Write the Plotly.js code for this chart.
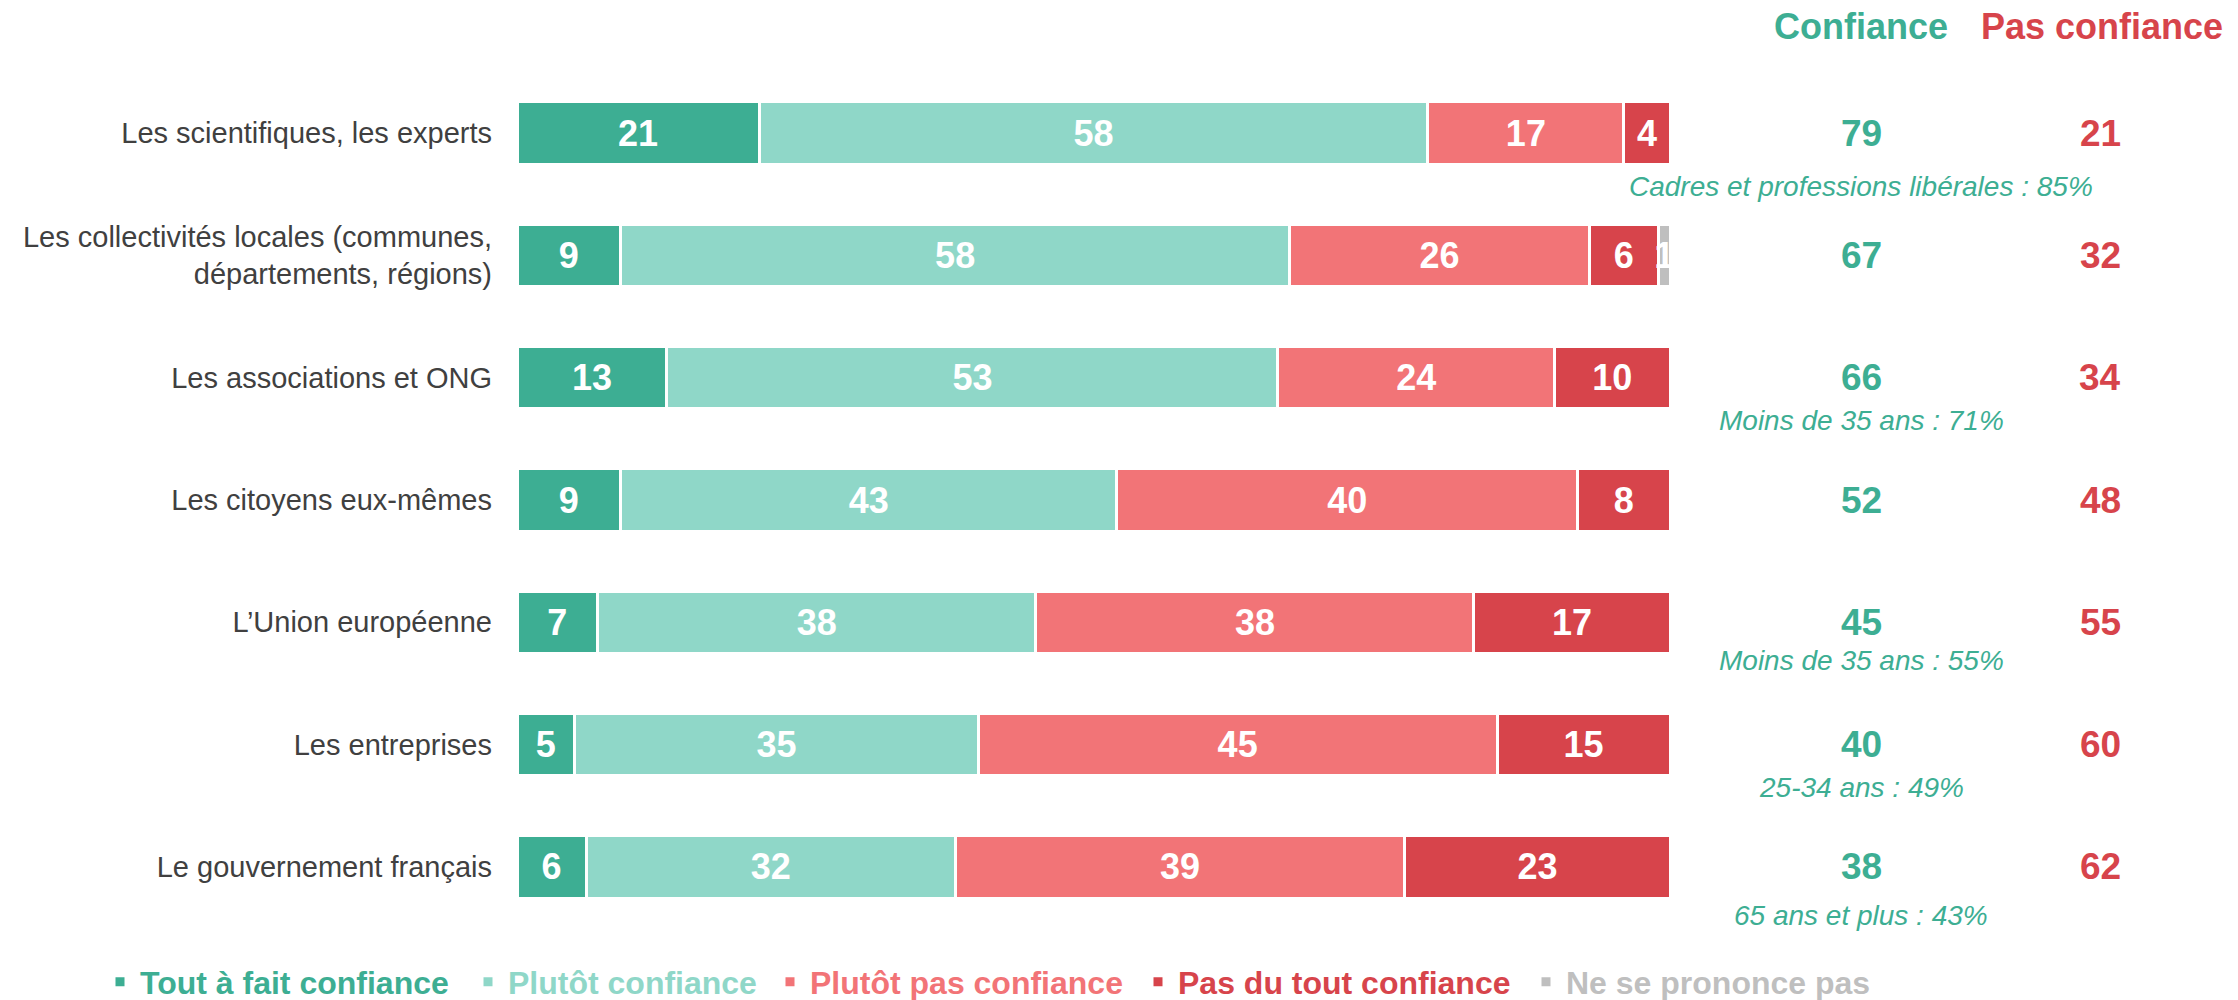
<!DOCTYPE html>
<html>
<head>
<meta charset="utf-8">
<script src="https://cdn.plot.ly/plotly-3.0.1.min.js"></script>
<style>
  html, body { margin: 0; padding: 0; background: #ffffff; }
  #chart { width: 2238px; height: 1000px; }
</style>
</head>
<body>
<div id="chart"></div>
<script>
// ---- Data ----
const categories = [
  "Les scientifiques, les experts",
  "Les collectivités locales (communes,<br>départements, régions)",
  "Les associations et ONG",
  "Les citoyens eux-mêmes",
  "L’Union européenne",
  "Les entreprises",
  "Le gouvernement français"
];
const seriesNames = ["Tout à fait confiance", "Plutôt confiance", "Plutôt pas confiance", "Pas du tout confiance", "Ne se prononce pas"];
const toutAFait   = [21, 9, 13, 9, 7, 5, 6];
const plutot      = [58, 58, 53, 43, 38, 35, 32];
const plutotPas   = [17, 26, 24, 40, 38, 45, 39];
const pasDuTout   = [4, 6, 10, 8, 17, 15, 23];
const nspp        = [null, 1, null, null, null, null, null];
const confianceTotal    = [79, 67, 66, 52, 45, 40, 38];
const pasConfianceTotal = [21, 32, 34, 48, 55, 60, 62];
const subNotes = [
  "Cadres et professions libérales : 85%",
  "",
  "Moins de 35 ans : 71%",
  "",
  "Moins de 35 ans : 55%",
  "25-34 ans : 49%",
  "65 ans et plus : 43%"
];

// ---- Styles ----
const FONT = "Liberation Sans, Arial, sans-serif";
const colors = ["#3dae93", "#8fd7c8", "#f27477", "#d7444b", "#bfbfbf"];
const GREEN = "#3dae93", RED = "#d7444b";
const noteShift = [-53, 0, -43, 0, -38, -43, -49];
const legendSymbolX = [120, 488, 790, 1158, 1546];   // px, legend symbol centres
const W = 2238, H = 1000;

const seriesValues = [toutAFait, plutot, plutotPas, pasDuTout, nspp];
const legendIds = ["legend", "legend2", "legend3", "legend4", "legend5"];
const traces = seriesValues.map((vals, i) => ({
  type: "bar",
  orientation: "h",
  y: categories,
  x: vals,
  legend: legendIds[i],
  name: '<b><span style="color:' + colors[i] + '">' + seriesNames[i] + '</span></b>',
  marker: { color: colors[i], line: { color: "#ffffff", width: 3 } },
  text: vals.map(v => (v === null ? "" : String(v))),
  textposition: "inside",
  insidetextanchor: "middle",
  constraintext: "none",
  textfont: { family: FONT, size: 36, color: "#ffffff", weight: "bold" },
  hoverinfo: "skip"
}));

const annotations = [];
annotations.push({ xref: "paper", yref: "paper", x: 1.1657, y: 1.0526, text: "<b>Confiance</b>",
  showarrow: false, xanchor: "center", yanchor: "middle", font: { family: FONT, size: 36, color: GREEN } });
annotations.push({ xref: "paper", yref: "paper", x: 1.3747, y: 1.0526, text: "<b>Pas confiance</b>",
  showarrow: false, xanchor: "center", yanchor: "middle", font: { family: FONT, size: 36, color: RED } });
categories.forEach((c, i) => {
  annotations.push({ xref: "paper", yref: "y", x: 1.1657, y: c, text: "<b>" + confianceTotal[i] + "</b>",
    showarrow: false, xanchor: "center", yanchor: "middle", font: { family: FONT, size: 37, color: GREEN } });
  annotations.push({ xref: "paper", yref: "y", x: 1.373, y: c, text: "<b>" + pasConfianceTotal[i] + "</b>",
    showarrow: false, xanchor: "center", yanchor: "middle", font: { family: FONT, size: 37, color: RED } });
  if (subNotes[i]) {
    annotations.push({ xref: "paper", yref: "y", x: 1.1657, y: c, yshift: noteShift[i], text: "<i>" + subNotes[i] + "</i>",
      showarrow: false, xanchor: "center", yanchor: "middle", font: { family: FONT, size: 28, color: GREEN } });
  }
});

const layout = {
  width: W, height: H,
  paper_bgcolor: "#ffffff", plot_bgcolor: "#ffffff",
  margin: { l: 517, r: 568, t: 72, b: 72, pad: 0, autoexpand: false },
  barmode: "stack",
  bargap: 0.49,
  showlegend: true,
  xaxis: { range: [0, 100], visible: false, fixedrange: true },
  yaxis: {
    type: "category",
    range: [categories.length - 0.5, -0.5],
    showgrid: false, zeroline: false, showline: false, ticks: "",
    ticklabelstandoff: 24,
    tickfont: { family: FONT, size: 29, color: "#404040" },
    fixedrange: true
  },
  annotations: annotations,
  font: { family: FONT }
};
legendIds.forEach((id, i) => {
  layout[id] = {
    orientation: "h", xref: "container", yref: "container",
    x: (legendSymbolX[i] - 20) / W, y: 0.018, xanchor: "left", yanchor: "middle",
    font: { family: FONT, size: 32 },
    bgcolor: "rgba(0,0,0,0)", borderwidth: 0,
    itemclick: false, itemdoubleclick: false
  };
});

Plotly.newPlot("chart", traces, layout, { displayModeBar: false, staticPlot: true });
</script>
</body>
</html>
